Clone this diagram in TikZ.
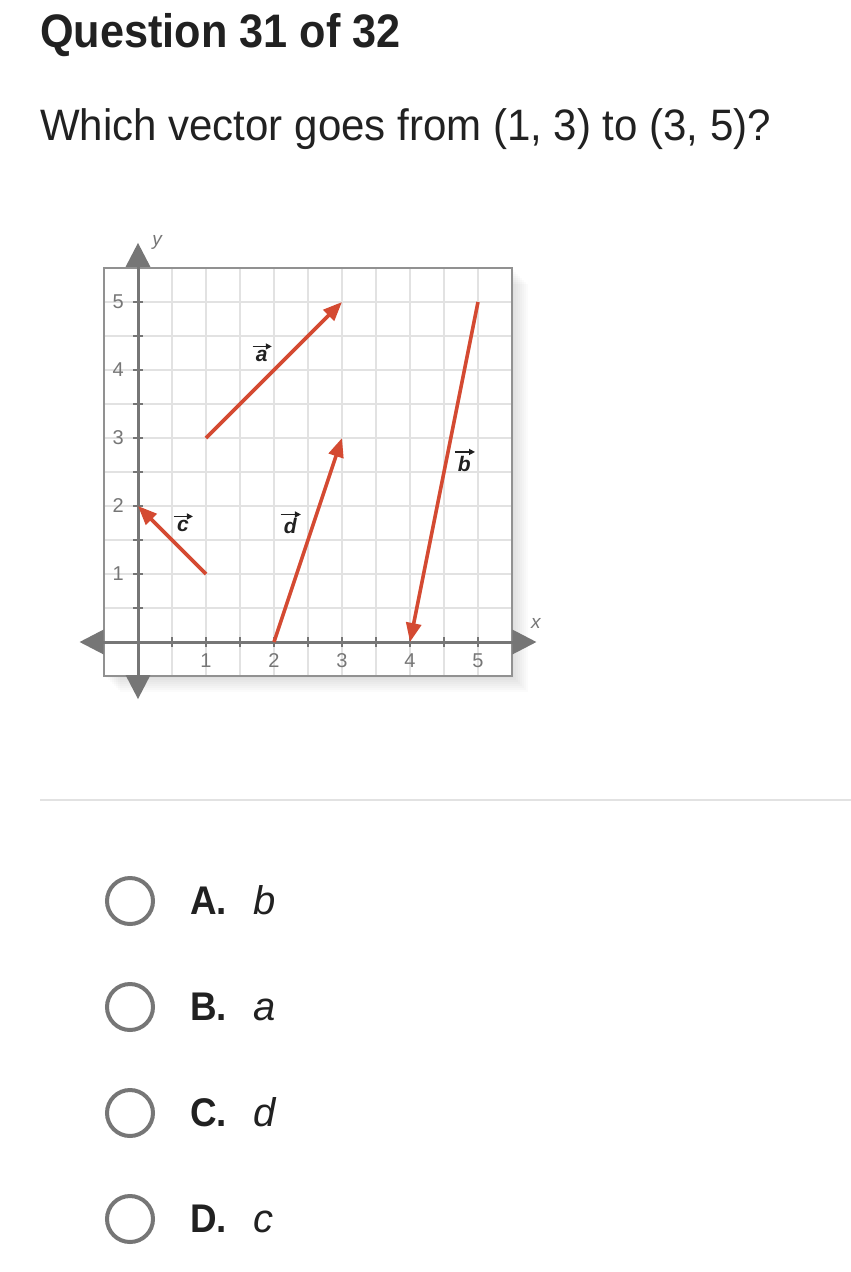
\documentclass[tikz,border=0pt]{standalone}
\usepackage{fontspec}
\usepackage{graphicx}
\setmainfont{Liberation Sans}
\usetikzlibrary{arrows.meta}

\definecolor{vecred}{RGB}{212,74,50}
\definecolor{axisgray}{RGB}{118,118,118}
\definecolor{gridgray}{RGB}{226,226,226}
\definecolor{textblack}{RGB}{33,33,33}

\tikzset{
  vector/.style={vecred, line width=3.6pt, -{Triangle[length=19pt,width=15pt]}},
  axisline/.style={axisgray, line width=3pt},
  ticklabel/.style={axisgray, font=\fontsize{20}{22}\selectfont},
  veclabel/.style={textblack, inner sep=0pt, font=\bfseries\itshape\fontsize{21}{24}\selectfont},
  labelarrow/.style={textblack, line width=1.4pt, -{Triangle[length=6pt,width=6pt]}},
  choicering/.style={axisgray, line width=4pt},
  choicetext/.style={textblack, anchor=base west, inner sep=0pt},
}

\begin{document}
\begin{tikzpicture}[x=1pt, y=-1pt]
\useasboundingbox[fill=white] (0,0) rectangle (851,1272);

% header
\node[textblack, anchor=base west, inner sep=0pt, font=\bfseries\fontsize{47}{56}\selectfont] (title) at (40,47) {\scalebox{0.92}[1]{Question 31 of 32}};
\node[textblack, anchor=base west, inner sep=0pt, font=\fontsize{44}{52}\selectfont] (question) at (40,140) {\scalebox{0.955}[1]{Which vector goes from (1, 3) to (3, 5)?}};

% graph
\begin{scope}[shift={(138pt,-642pt)}, x=68pt, y=68pt]
% soft shadow
\foreach \s in {2,4,...,16}
  \fill[black, opacity=0.016] ([xshift=\s pt, yshift=-\s pt]-0.5,-0.5) rectangle ([xshift=\s pt, yshift=-\s pt]5.5,5.5);
\fill[white] (-0.5,-0.5) rectangle (5.5,5.5);
\draw[gridgray, line width=1.6pt] (-0.5,-0.5) grid[step=0.5] (5.5,5.5);
\draw[axisgray!80, line width=2pt] (-0.5,-0.5) rectangle (5.5,5.5);

\draw[axisline, {Triangle[length=24pt,width=24pt]}-{Triangle[length=24pt,width=24pt]}] (-0.86,0) -- (5.86,0);
\draw[axisline, {Triangle[length=24pt,width=24pt]}-{Triangle[length=24pt,width=24pt]}] (0,-0.84) -- (0,5.87);
\foreach \t in {0.5,1,...,5} {
  \draw[axisgray, line width=2pt] (\t,-0.07) -- (\t,0.07);
  \draw[axisgray, line width=2pt] (-0.07,\t) -- (0.07,\t);
}
\foreach \n in {1,...,5} {
  \node[ticklabel] (xt\n) at (\n,-0.27) {\n};
  \node[ticklabel] (yt\n) at (-0.29,\n) {\n};
}
\node[axisgray, font=\itshape\fontsize{19}{20}\selectfont] (xlab) at (5.85,0.27) {x};
\node[axisgray, font=\itshape\fontsize{19}{20}\selectfont] (ylab) at (0.28,5.88) {y};

% vectors
\coordinate (a0) at (1,3); \coordinate (a1) at (3,5);
\coordinate (b0) at (5,5); \coordinate (b1) at (4,0);
\coordinate (c0) at (1,1); \coordinate (c1) at (0,2);
\coordinate (d0) at (2,0); \coordinate (d1) at (3,3);
\draw[vector] (a0) -- (a1);
\draw[vector] (b0) -- (b1);
\draw[vector] (c0) -- (c1);
\draw[vector] (d0) -- (d1);

% vector names
\node[veclabel] (alab) at (1.82,4.2) {a};
\node[veclabel] (blab) at (4.8,2.62) {b};
\node[veclabel] (clab) at (0.66,1.7) {c};
\node[veclabel] (dlab) at (2.24,1.7) {d};
\foreach \v in {alab,blab,clab,dlab}
  \draw[labelarrow] ([xshift=-3pt, yshift=4pt]\v.north west) -- ([xshift=4pt, yshift=4pt]\v.north east);
\end{scope}

% divider
\draw[gridgray, line width=2pt] (40,800) -- (851,800);

% choices
\foreach \y/\k/\v [count=\i] in {901/A/b, 1007/B/a, 1113/C/d, 1219/D/c} {
  \draw[choicering] (130,\y) circle (23);
  \node[choicetext, font=\bfseries\fontsize{40}{48}\selectfont] (key\i) at (190,\y+13) {\scalebox{0.92}[1]{\k.}};
  \node[choicetext, font=\itshape\fontsize{40}{48}\selectfont] (val\i) at (253,\y+13) {\v};
}
\end{tikzpicture}
\end{document}
